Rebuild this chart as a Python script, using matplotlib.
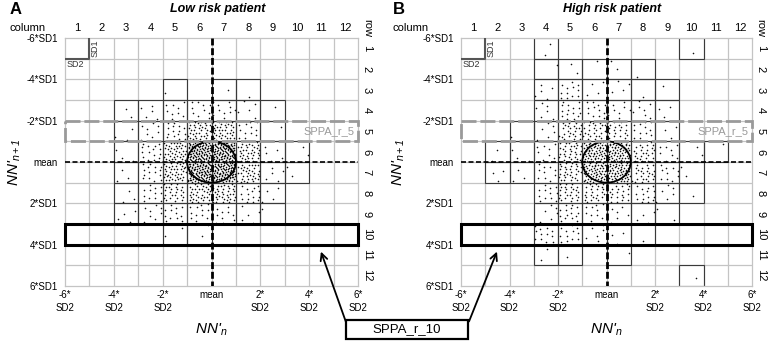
import matplotlib.pyplot as plt
from matplotlib.patches import Rectangle, Ellipse, FancyArrowPatch
import numpy as np

plt.rcParams['font.family'] = ['Liberation Sans', 'DejaVu Sans']
plt.rcParams['mathtext.fontset'] = 'custom'
plt.rcParams['mathtext.it'] = 'Liberation Sans:italic'
plt.rcParams['mathtext.rm'] = 'Liberation Sans:italic'

columns = list(range(1, 13))
rows = list(range(1, 13))
sd_ticks = [-6, -4, -2, 0, 2, 4, 6]
y_labels = ['-6*SD1', '-4*SD1', '-2*SD1', 'mean', '2*SD1', '4*SD1', '6*SD1']
x_labels = ['-6*\nSD2', '-4*\nSD2', '-2*\nSD2', 'mean', '2*\nSD2', '4*\nSD2', '6*\nSD2']

# points counted per cell, row 1..12 (top to bottom), column 1..12
counts_low = [
    [0, 0, 0, 0, 0, 0, 0, 0, 0, 0, 0, 0],
    [0, 0, 0, 0, 0, 0, 0, 0, 0, 0, 0, 0],
    [0, 0, 0, 0, 1, 0, 1, 1, 0, 0, 0, 0],
    [0, 0, 2, 5, 9, 10, 10, 5, 1, 0, 0, 0],
    [0, 0, 3, 8, 15, 35, 35, 12, 1, 0, 0, 0],
    [0, 0, 3, 15, 40, 100, 100, 35, 5, 2, 0, 0],
    [0, 0, 3, 15, 40, 100, 100, 35, 5, 2, 0, 0],
    [0, 0, 3, 12, 25, 35, 35, 15, 4, 0, 0, 0],
    [0, 0, 4, 8, 12, 12, 10, 5, 1, 0, 0, 0],
    [0, 0, 0, 0, 2, 2, 0, 0, 0, 0, 0, 0],
    [0, 0, 0, 0, 0, 0, 0, 0, 0, 0, 0, 0],
    [0, 0, 0, 0, 0, 0, 0, 0, 0, 0, 0, 0],
]
counts_high = [
    [0, 0, 0, 2, 0, 0, 0, 0, 0, 1, 0, 0],
    [0, 0, 0, 1, 2, 1, 2, 1, 0, 0, 0, 0],
    [0, 0, 0, 5, 12, 4, 4, 1, 1, 0, 0, 0],
    [0, 0, 0, 6, 15, 12, 8, 7, 3, 0, 0, 0],
    [0, 0, 1, 6, 25, 25, 20, 12, 3, 0, 0, 0],
    [0, 2, 3, 8, 30, 60, 60, 25, 8, 2, 1, 0],
    [0, 3, 3, 10, 30, 60, 60, 25, 10, 2, 0, 0],
    [0, 0, 0, 12, 25, 25, 20, 15, 6, 1, 0, 0],
    [0, 0, 0, 6, 15, 10, 6, 4, 2, 0, 0, 0],
    [0, 0, 0, 12, 12, 6, 3, 1, 0, 0, 0, 0],
    [0, 0, 0, 2, 1, 0, 1, 0, 0, 0, 0, 0],
    [0, 0, 0, 0, 0, 0, 0, 0, 0, 1, 0, 0],
]


def cell_points(counts):
    # spread each cell's count evenly over the cell
    xs, ys = [], []
    a1, a2 = 0.7548776662, 0.5698402910
    for r in range(12):
        for c in range(12):
            k = np.arange(1, counts[r][c] + 1) + 7 * r + 13 * c
            u = (0.5 + a1 * k) % 1
            v = (0.5 + a2 * k) % 1
            xs.extend(-6 + c + 0.04 + 0.92 * u)
            ys.extend(-6 + r + 0.04 + 0.92 * v)
    return xs, ys


def draw_panel(ax, counts, letter, title, col_x):
    ax.set_xlim(-6, 6)
    ax.set_ylim(6, -6)
    for v in range(-5, 6):
        ax.axvline(v, color='#c4c4c4', lw=0.9, zorder=1)
        ax.axhline(v, color='#c4c4c4', lw=0.9, zorder=1)
    for s in ax.spines.values():
        s.set_color('#c4c4c4')
        s.set_linewidth(0.9)

    # outline cells that hold beats
    for r in range(12):
        for c in range(12):
            if counts[r][c] > 0:
                ax.add_patch(Rectangle((-6 + c, -6 + r), 1, 1, fill=False,
                                       ec='#3a3a3a', lw=0.8, zorder=2))

    xs, ys = cell_points(counts)
    ax.plot(xs, ys, 'o', ms=1.15, mew=0, color='#111111', zorder=3)

    ax.plot([0, 0], [-6, 6], color='black', lw=2, ls=(0, (2.5, 1)), zorder=4)
    ax.plot([-6, 6], [0, 0], color='black', lw=1.2, ls=(0, (3, 1.5)), zorder=4)
    ax.add_patch(Ellipse((0, 0), 2, 2, fill=False, ec='black', lw=1.3, zorder=5))

    # SD1 / SD2 key in the first cell
    ax.plot([-6, -5, -5], [-5, -5, -6], color='#555555', lw=1.5, zorder=4)
    ax.text(-4.78, -5.5, 'SD1', rotation=90, fontsize=6.5, ha='center', va='center', color='#333333')
    ax.text(-5.95, -4.72, 'SD2', fontsize=6.5, ha='left', va='center', color='#333333')

    # SPPA row boxes
    ax.add_patch(Rectangle((-6, -2), 12, 1, fill=False, ec='#9a9a9a', lw=2,
                           ls=(0, (5.4, 1.4)), zorder=6, clip_on=False))
    ax.text(5.85, -1.5, 'SPPA_r_5', color='#9a9a9a', fontsize=8, ha='right', va='center', zorder=6)
    ax.add_patch(Rectangle((-6, 3), 12, 1, fill=False, ec='black', lw=2.2, zorder=6, clip_on=False))

    ax.set_yticks(sd_ticks, y_labels)
    ax.set_xticks(sd_ticks, x_labels)
    ax.tick_params(length=0, labelsize=7, pad=5)
    ax.tick_params(axis='x', pad=3)
    for lab in ax.get_xticklabels():
        lab.set_linespacing(1.35)

    xt = ax.get_xaxis_transform()
    for i, c in enumerate(columns):
        ax.text(-5.5 + i, 1.04, str(c), transform=xt, fontsize=8, ha='center', va='center')
    yt = ax.get_yaxis_transform()
    for i, r in enumerate(rows):
        ax.text(1.03, -5.5 + i, str(r), transform=yt, fontsize=8, rotation=-90,
                ha='center', va='center')
    ax.text(1.03, 1.04, 'row', transform=ax.transAxes, fontsize=8, rotation=-90,
            ha='center', va='center')
    ax.text(col_x, 1.04, 'column', transform=ax.transAxes, fontsize=8, ha='left', va='center')
    ax.text(col_x, 1.115, letter, transform=ax.transAxes, fontsize=12, fontweight='bold',
            ha='left', va='center')
    ax.text(0.52, 1.115, title, transform=ax.transAxes, fontsize=9, fontweight='bold',
            fontstyle='italic', ha='center', va='center')

    ax.text(0.5, -0.175, "NN'$_n$", transform=ax.transAxes, fontsize=11,
            fontstyle='italic', ha='center', va='center')
    ax.text(col_x + 0.02, 0.5, "NN'$_{n+1}$", transform=ax.transAxes, fontsize=11,
            fontstyle='italic', rotation=90, ha='center', va='center')


fig = plt.figure(figsize=(7.73, 3.44), dpi=100)
ax_a = fig.add_axes([65 / 773, 1 - 286 / 344, 293 / 773, 248 / 344])
ax_b = fig.add_axes([461 / 773, 1 - 286 / 344, 291 / 773, 248 / 344])
draw_panel(ax_a, counts_low, 'A', 'Low risk patient', -0.19)
draw_panel(ax_b, counts_high, 'B', 'High risk patient', -0.234)

# shared SPPA_r_10 call-out
box = Rectangle((346, 344 - 339), 122, 19, transform=None, fc='white', ec='black', lw=1.6, zorder=2)
fig.add_artist(box)
fig.text(407 / 773, 1 - 329.5 / 344, 'SPPA_r_10', fontsize=9.5, ha='center', va='center', zorder=3)
for (x0, y0), (x1, y1) in [((347, 325), (320, 249)), ((468, 324), (498, 249))]:
    fig.add_artist(FancyArrowPatch(
        (x0, 344 - y0), (x1, 344 - y1), transform=None,
        arrowstyle='->,head_length=5,head_width=2.5',
        color='black', lw=1.3, mutation_scale=1, zorder=2))

fig.savefig('out.png', dpi=100)
